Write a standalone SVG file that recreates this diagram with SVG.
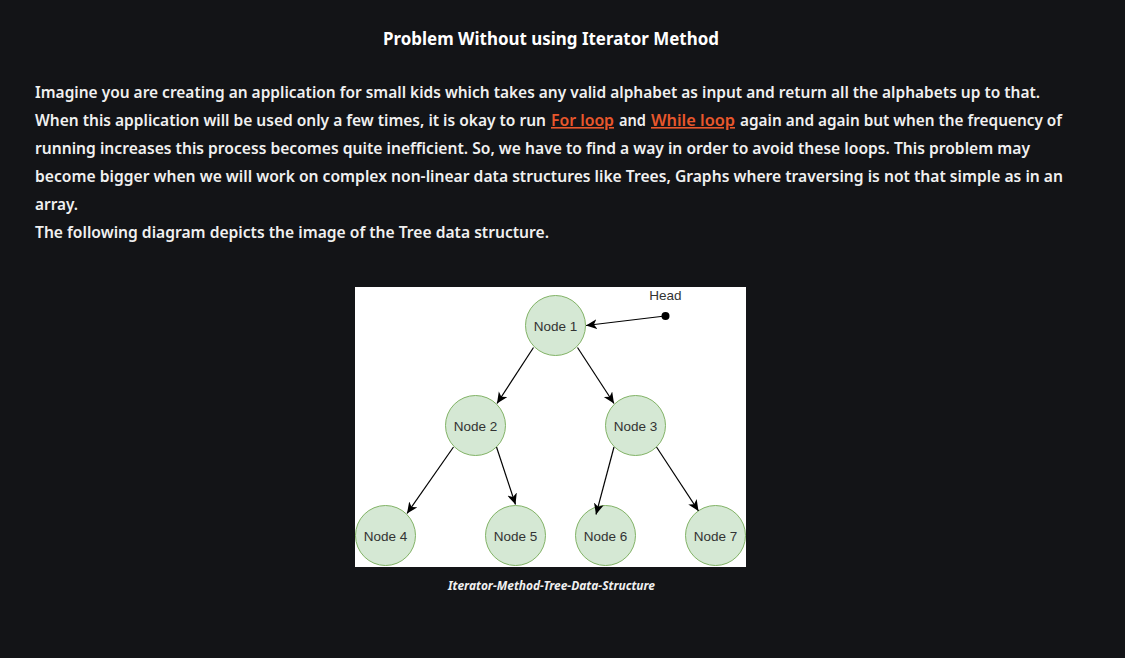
<svg xmlns="http://www.w3.org/2000/svg" width="1125" height="658" viewBox="0 0 1125 658">
<style>
.bg{fill:#131417}
.t{font-family:"Noto Sans","Liberation Sans",sans-serif;font-size:16px;font-weight:600;fill:#f0f0f0}
.link{fill:#e8572c;text-decoration:underline}
.title{font-family:"Noto Sans","Liberation Sans",sans-serif;font-size:18px;font-weight:700;fill:#ffffff}
.cap{font-family:"Noto Sans","Liberation Sans",sans-serif;font-size:12px;font-weight:700;font-style:italic;fill:#f0f0f0}
.node circle{fill:#d5e8d4;stroke:#82b366;stroke-width:1}
.node text{font-family:"Liberation Sans",Arial,sans-serif;font-size:13.5px;fill:#333333;text-anchor:middle}
.edge{stroke:#000;stroke-width:1.2;fill:none;marker-end:url(#arr)}
</style>
<defs>
<marker id="arr" markerUnits="userSpaceOnUse" markerWidth="13" markerHeight="11" refX="11" refY="5" orient="auto">
<path d="M0,0 L11,5 L0,10 L3,5 Z" fill="#000"/>
</marker>
</defs>
<rect class="bg" x="0" y="0" width="1125" height="658"/>
<text class="title" x="383" y="45" textLength="336" lengthAdjust="spacingAndGlyphs">Problem Without using Iterator Method</text>
<text class="t" x="35" y="98" textLength="1005" lengthAdjust="spacingAndGlyphs">Imagine you are creating an application for small kids which takes any valid alphabet as input and return all the alphabets up to that.</text>
<text class="t" x="35" y="126" font-size="15.2" style="font-size:15.2px" textLength="511" lengthAdjust="spacingAndGlyphs">When this application will be used only a few times, it is okay to run</text>
<text class="t link" x="551" y="126" textLength="63" lengthAdjust="spacingAndGlyphs">For loop</text>
<text class="t" x="619" y="126" textLength="27" lengthAdjust="spacingAndGlyphs">and</text>
<text class="t link" x="651" y="126" textLength="84" lengthAdjust="spacingAndGlyphs">While loop</text>
<text class="t" x="740" y="126" textLength="322" lengthAdjust="spacingAndGlyphs">again and again but when the frequency of</text>
<text class="t" x="35" y="154" textLength="995" lengthAdjust="spacingAndGlyphs">running increases this process becomes quite inefficient. So, we have to find a way in order to avoid these loops. This problem may</text>
<text class="t" x="35" y="182" textLength="1028" lengthAdjust="spacingAndGlyphs">become bigger when we will work on complex non-linear data structures like Trees, Graphs where traversing is not that simple as in an</text>
<text class="t" x="35" y="210" textLength="43" lengthAdjust="spacingAndGlyphs">array.</text>
<text class="t" x="35" y="238" textLength="514" lengthAdjust="spacingAndGlyphs">The following diagram depicts the image of the Tree data structure.</text>
<rect x="355" y="287" width="391" height="280" fill="#ffffff"/>
<g id="node1" class="node"><circle cx="555.5" cy="325.5" r="30"/><text x="555.5" y="330.5">Node 1</text></g>
<g id="node2" class="node"><circle cx="475.5" cy="425.5" r="30"/><text x="475.5" y="430.5">Node 2</text></g>
<g id="node3" class="node"><circle cx="635.5" cy="425.5" r="30"/><text x="635.5" y="430.5">Node 3</text></g>
<g id="node4" class="node"><circle cx="385.5" cy="535.5" r="30"/><text x="385.5" y="540.5">Node 4</text></g>
<g id="node5" class="node"><circle cx="515.5" cy="535.5" r="30"/><text x="515.5" y="540.5">Node 5</text></g>
<g id="node6" class="node"><circle cx="605.5" cy="535.5" r="30"/><text x="605.5" y="540.5">Node 6</text></g>
<g id="node7" class="node"><circle cx="715.5" cy="535.5" r="30"/><text x="715.5" y="540.5">Node 7</text></g>
<g id="head">
<circle cx="665.5" cy="316" r="4" fill="#000"/>
<text x="665.5" y="300" font-family="Liberation Sans,Arial,sans-serif" font-size="13.5" fill="#333" text-anchor="middle">Head</text>
</g>
<g id="connectors">
<line class="edge" x1="665" y1="316" x2="586" y2="325.5"/>
<line class="edge" x1="533.5" y1="347.5" x2="497" y2="403.5"/>
<line class="edge" x1="577.5" y1="347.5" x2="614" y2="403.5"/>
<line class="edge" x1="453.5" y1="447" x2="407" y2="513.5"/>
<line class="edge" x1="496.5" y1="447" x2="515.5" y2="504.5"/>
<line class="edge" x1="614" y1="447" x2="596" y2="514.5"/>
<line class="edge" x1="656.5" y1="447" x2="698.5" y2="511"/>
</g>
<text class="cap" x="448" y="590" textLength="207" lengthAdjust="spacingAndGlyphs">Iterator-Method-Tree-Data-Structure</text>
</svg>
